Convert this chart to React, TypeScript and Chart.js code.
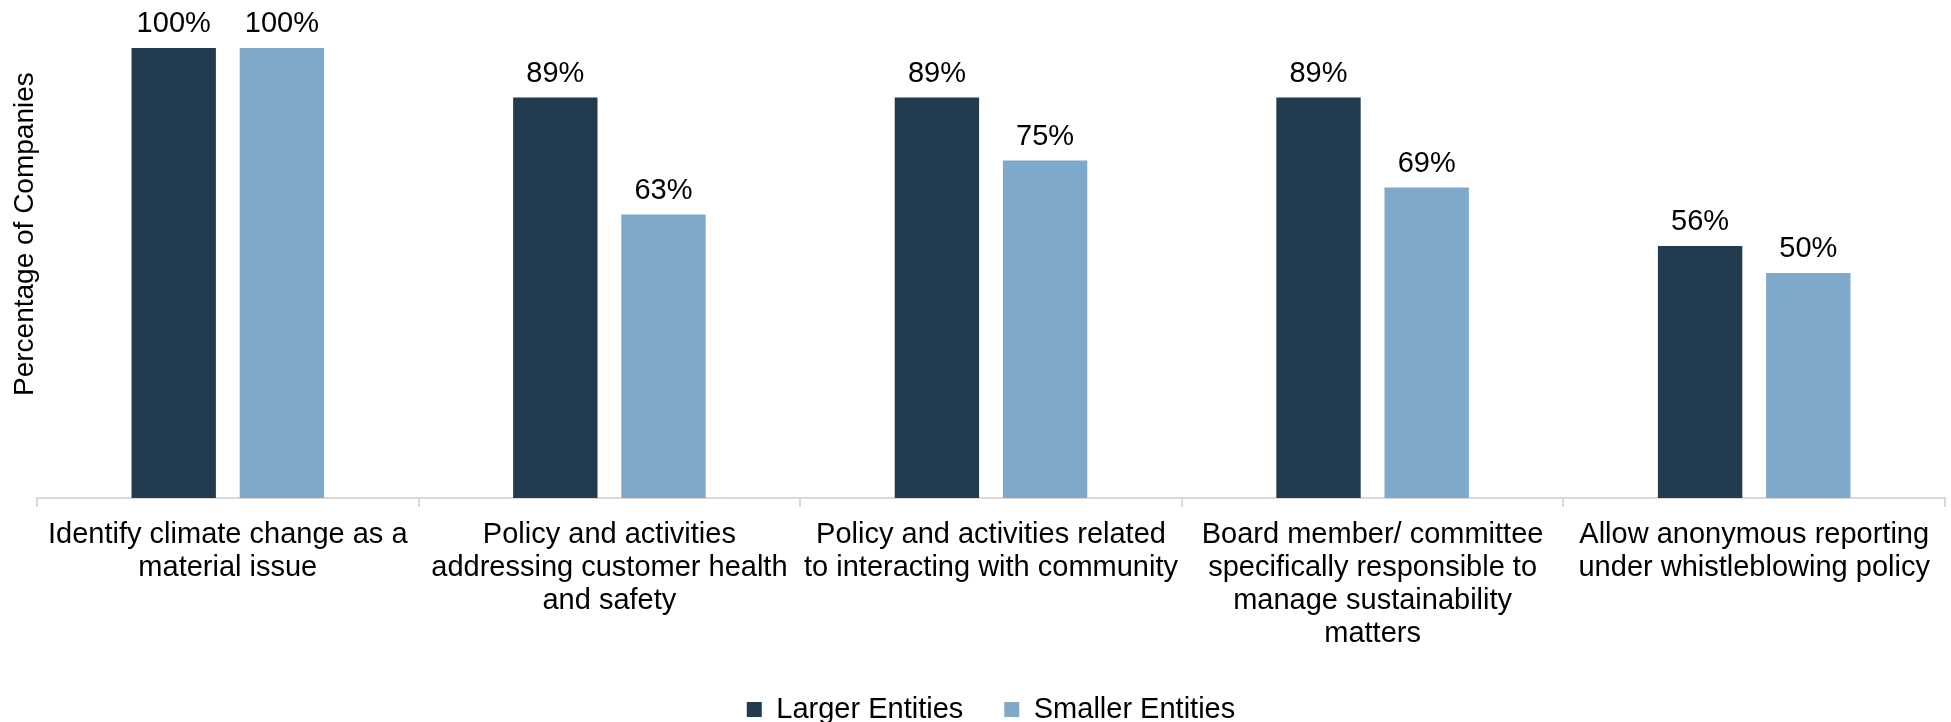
import React, { useEffect, useRef } from "react";
import { Chart, registerables } from "chart.js";

Chart.register(...registerables);

const categories: string[][] = [
  ["Identify climate change as a", "material issue"],
  ["Policy and activities", "addressing customer health", "and safety"],
  ["Policy and activities related", "to interacting with community"],
  ["Board member/ committee", "specifically responsible to", "manage sustainability", "matters"],
  ["Allow anonymous reporting", "under whistleblowing policy"],
];
const largerEntities = [100, 89, 89, 89, 56];
const smallerEntities = [100, 63, 75, 69, 50];
const seriesNames = ["Larger Entities", "Smaller Entities"];
const yAxisTitle = "Percentage of Companies";

const FONT = '"Liberation Sans", Arial, sans-serif';

const valueLabels = {
  id: "valueLabels",
  afterDatasetsDraw(chart: any) {
    const ctx = chart.ctx;
    ctx.save();
    ctx.font = `29px ${FONT}`;
    ctx.fillStyle = "#000000";
    ctx.textAlign = "center";
    ctx.textBaseline = "alphabetic";
    chart.data.datasets.forEach((ds: any, i: number) => {
      const meta = chart.getDatasetMeta(i);
      meta.data.forEach((bar: any, j: number) => {
        ctx.fillText(`${ds.data[j]}%`, bar.x, bar.y - 16);
      });
    });
    ctx.restore();
  },
};

export default function App() {
  const ref = useRef<HTMLCanvasElement | null>(null);
  useEffect(() => {
    if (!ref.current) return;
    const chart = new Chart(ref.current, {
      type: "bar",
      data: {
        labels: categories,
        datasets: [
          {
            label: seriesNames[0],
            data: largerEntities,
            backgroundColor: "#233B4F",
            categoryPercentage: 0.567,
            barPercentage: 0.78,
          },
          {
            label: seriesNames[1],
            data: smallerEntities,
            backgroundColor: "#7FA9CB",
            categoryPercentage: 0.567,
            barPercentage: 0.78,
          },
        ],
      },
      options: {
        responsive: false,
        animation: false,
        layout: { padding: { top: 48, right: 6, left: 0, bottom: -12 } },
        plugins: {
          legend: {
            position: "bottom",
            fullSize: false,
            labels: {
              font: { family: FONT, size: 29 },
              color: "#000000",
              boxWidth: 15,
              boxHeight: 15,
              padding: 41,
            },
          },
          tooltip: { enabled: false },
        },
        scales: {
          x: {
            grid: {
              display: true,
              drawOnChartArea: false,
              drawTicks: true,
              tickLength: 9,
              color: "#D9D9D9",
              lineWidth: 2,
            },
            border: { display: true, color: "#D9D9D9", width: 2 },
            ticks: {
              font: { family: FONT, size: 29, lineHeight: 1.145 },
              color: "#000000",
              maxRotation: 0,
              minRotation: 0,
              autoSkip: false,
              padding: 11,
            },
            afterFit: (scale: any) => {
              scale.height = 156;
            },
          },
          y: {
            min: 0,
            max: 100,
            grid: { display: false },
            border: { display: false },
            ticks: { display: false },
            title: {
              display: true,
              text: "          " + yAxisTitle,
              font: { family: FONT, size: 28 },
              color: "#000000",
              padding: { top: 8, bottom: 4 },
            },
            afterFit: (scale: any) => {
              scale.width = 37;
            },
          },
        },
      },
      plugins: [valueLabels],
    });
    return () => chart.destroy();
  }, []);
  return (
    <div style={{ position: "absolute", left: 0, top: 0, width: 1951, height: 722, background: "#ffffff" }}>
      <canvas ref={ref} width={1951} height={722} style={{ display: "block" }} />
    </div>
  );
}
